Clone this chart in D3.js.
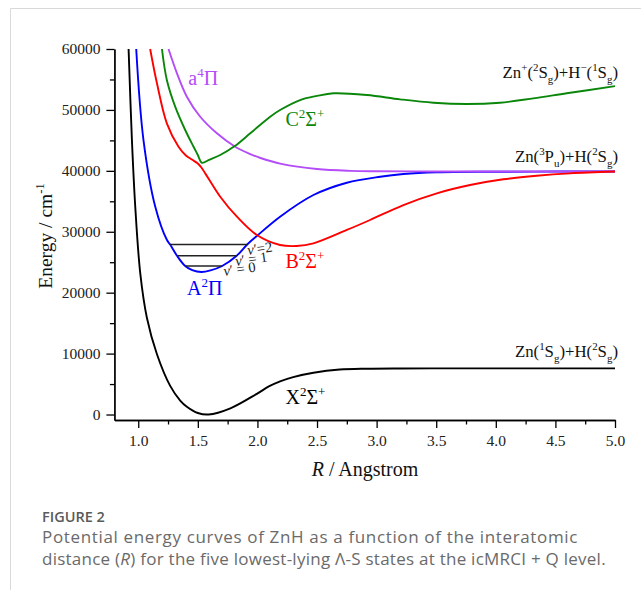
<!DOCTYPE html>
<html>
<head>
<meta charset="utf-8">
<script src="https://cdn.jsdelivr.net/npm/d3@7"></script>
<style>
  body { margin: 0; background: #fff; }
  svg { display: block; }
</style>
</head>
<body>
<div id="plot"></div>
<script>
// potential energy curves of ZnH (R in angstrom, E in cm-1)
const xR = [0.919, 0.947, 0.975, 1.017, 1.073, 1.157, 1.268, 1.352, 1.408, 1.50, 1.59, 1.773, 1.995, 2.10, 2.19, 2.30, 2.47, 2.69, 2.92, 3.2, 3.6, 4.0, 4.5, 5.0];
const xE = [60000, 45060, 34110, 23180, 15850, 9900, 4700, 2300, 1280, 250, 0, 1020, 3400, 4650, 5450, 6150, 6860, 7380, 7520, 7560, 7570, 7570, 7570, 7570];

const aR = [0.983, 1.044, 1.143, 1.241, 1.268, 1.325, 1.394, 1.453, 1.53, 1.606, 1.704, 1.826, 1.914, 1.995, 2.19, 2.47, 2.75, 3.03, 3.225, 3.505, 4.0, 4.5, 5.0];
const aE = [60000, 45060, 34110, 28640, 27900, 26070, 24380, 23700, 23390, 23650, 24380, 26070, 27900, 29300, 32470, 36030, 38050, 39040, 39480, 39760, 39850, 39880, 39890];

const bR = [1.10, 1.157, 1.24, 1.338, 1.40, 1.45, 1.50, 1.53, 1.56, 1.60, 1.688, 1.828, 1.995, 2.19, 2.33, 2.47, 2.75, 2.945, 3.225, 3.505, 3.784, 4.063, 4.343, 4.623, 5.0];
const bE = [60000, 54370, 47800, 43960, 42520, 41860, 41200, 40550, 39640, 38410, 35750, 32470, 29460, 27820, 27660, 28100, 30290, 31930, 34390, 36310, 37670, 38610, 39200, 39590, 39880];

const cR = [1.199, 1.24, 1.31, 1.394, 1.464, 1.50, 1.534, 1.60, 1.688, 1.81, 1.94, 2.107, 2.19, 2.358, 2.5, 2.638, 2.918, 3.197, 3.476, 3.756, 4.035, 4.315, 4.595, 5.0];
const cE = [60000, 54910, 50530, 46700, 43960, 42600, 41330, 41860, 42600, 44070, 46160, 48880, 49980, 51620, 52300, 52730, 52450, 51740, 51180, 50970, 51180, 51900, 52730, 53900];

const qR = [1.254, 1.325, 1.408, 1.52, 1.66, 1.813, 1.94, 2.02, 2.2, 2.5, 2.78, 3.0, 3.5, 4.0, 5.0];
const qE = [60000, 56010, 52170, 48880, 46160, 43960, 42760, 42150, 41150, 40300, 40000, 39930, 39900, 39890, 39890];

// vibrational levels of A2Pi: energy, inner and outer turning points
const levelNames = ["0", "1", "2"];
const levelE = [24380, 26070, 27900];
const levelRin = [1.394, 1.325, 1.268];
const levelRout = [1.704, 1.826, 1.914];

const xTicks = [1.0, 1.5, 2.0, 2.5, 3.0, 3.5, 4.0, 4.5, 5.0];
const xMinor = [1.25, 1.75, 2.25, 2.75, 3.25, 3.75, 4.25, 4.75];
const yTicks = [0, 10000, 20000, 30000, 40000, 50000, 60000];
const yMinor = [5000, 15000, 25000, 35000, 45000, 55000];

const width = 641;
const height = 590;
const serif = "'Liberation Serif', 'Times New Roman', serif";
const sans = "'Open Sans', 'Noto Sans', sans-serif";

const svg = d3.select("#plot").append("svg")
  .attr("width", width)
  .attr("height", height);

// light frame of the figure panel
svg.append("path")
  .attr("d", "M10.5,590 V8.5 H641")
  .attr("fill", "none")
  .attr("stroke", "#d9d9d9")
  .attr("stroke-width", 1);

const x = d3.scaleLinear().domain([0.8, 5.0]).range([114.4, 615]);
const y = d3.scaleLinear().domain([-900, 60000]).range([420, 49]);

function styleAxis(g) {
  g.selectAll("path, line").attr("stroke", "#000").attr("stroke-width", 1.3);
  g.selectAll("text").attr("font-family", serif).attr("font-size", 15.5).attr("fill", "#222");
}

svg.append("g")
  .attr("transform", "translate(0,420)")
  .call(d3.axisBottom(x).tickValues(xMinor).tickSize(4.5).tickSizeOuter(0).tickFormat(""))
  .call(styleAxis);
svg.append("g")
  .attr("transform", "translate(0,420)")
  .call(d3.axisBottom(x).tickValues(xTicks).tickSize(8).tickSizeOuter(0).tickPadding(7).tickFormat(d3.format(".1f")))
  .call(styleAxis);

svg.append("g")
  .attr("transform", "translate(114.4,0)")
  .call(d3.axisLeft(y).tickValues(yMinor).tickSize(4.5).tickSizeOuter(0).tickFormat(""))
  .call(styleAxis);
svg.append("g")
  .attr("transform", "translate(114.4,0)")
  .call(d3.axisLeft(y).tickValues(yTicks).tickSize(8).tickSizeOuter(0).tickPadding(6).tickFormat(d3.format("d")))
  .call(styleAxis);

// rich text: parts are [text, kind] where kind is "sup", "sub", "i" or nothing
function rich(sel, parts, size) {
  let shift = 0;
  parts.forEach((p) => {
    const kind = p[1];
    const target = kind === "sup" ? -0.4 * size : kind === "sub" ? 0.28 * size : 0;
    const t = sel.append("tspan")
      .attr("dy", target - shift)
      .attr("font-size", kind === "sup" || kind === "sub" ? size * 0.65 : size)
      .text(p[0]);
    if (kind === "i") t.attr("font-style", "italic");
    shift = target;
  });
  return sel;
}

// axis titles
rich(svg.append("text")
  .attr("x", 365).attr("y", 476)
  .attr("text-anchor", "middle")
  .attr("font-family", serif).attr("fill", "#111"),
  [["R", "i"], [" / Angstrom"]], 20);

rich(svg.append("text")
  .attr("transform", "translate(52,236) rotate(-90)")
  .attr("text-anchor", "middle")
  .attr("font-family", serif).attr("fill", "#111"),
  [["Energy / cm"], ["-1", "sup"]], 19.5);

// curves
svg.append("clipPath").attr("id", "clip")
  .append("rect").attr("x", 114.4).attr("y", 48).attr("width", 501).attr("height", 372);

const line = d3.line()
  .x((d) => x(d[0]))
  .y((d) => y(d[1]))
  .curve(d3.curveCatmullRom.alpha(0.5));

const curves = [
  { r: xR, e: xE, color: "#000000" },
  { r: aR, e: aE, color: "#0000ff" },
  { r: qR, e: qE, color: "#b44cf7" },
  { r: bR, e: bE, color: "#ff0000" },
  { r: cR, e: cE, color: "#0a870a" },
];

const plot = svg.append("g").attr("clip-path", "url(#clip)");
curves.forEach((c) => {
  plot.append("path")
    .datum(c.r.map((r, i) => [r, c.e[i]]))
    .attr("d", line)
    .attr("fill", "none")
    .attr("stroke", c.color)
    .attr("stroke-width", 1.9);
});

// vibrational levels
plot.selectAll(".level")
  .data(levelE)
  .enter()
  .append("line")
  .attr("class", "level")
  .attr("x1", (d, i) => x(levelRin[i]))
  .attr("x2", (d, i) => x(levelRout[i]))
  .attr("y1", (d) => y(d))
  .attr("y2", (d) => y(d))
  .attr("stroke", "#222")
  .attr("stroke-width", 1.6);

const levelLabelPos = [[1.721, 22740], [1.82, 24380], [1.921, 26185]];
levelNames.forEach((n, i) => {
  const px = x(levelLabelPos[i][0]);
  const py = y(levelLabelPos[i][1]);
  rich(svg.append("text")
    .attr("transform", `translate(${px},${py}) rotate(-8)`)
    .attr("font-family", serif).attr("fill", "#222"),
    [["\u03bd", "i"], ["\u2032"], [i === 2 ? "=" + n : " = " + n]], 14.5);
});

// state labels
const stateLabels = [
  { r: 1.42, e: 54090, color: "#b44cf7", parts: [["a"], ["4", "sup"], ["\u03a0"]] },
  { r: 2.235, e: 47360, color: "#0a870a", parts: [["C"], ["2", "sup"], ["\u03a3"], ["+", "sup"]] },
  { r: 2.235, e: 24050, color: "#ff0000", parts: [["B"], ["2", "sup"], ["\u03a3"], ["+", "sup"]] },
  { r: 1.41, e: 19620, color: "#0000ff", parts: [["A"], ["2", "sup"], ["\u03a0"]] },
  { r: 2.235, e: 1720, color: "#000000", parts: [["X"], ["2", "sup"], ["\u03a3"], ["+", "sup"]] },
];
stateLabels.forEach((s) => {
  rich(svg.append("text")
    .attr("x", x(s.r)).attr("y", y(s.e))
    .attr("font-family", serif).attr("fill", s.color),
    s.parts, 20);
});

// dissociation limits
const limitLabels = [
  { e: 55240, parts: [["Zn"], ["+", "sup"], ["("], ["2", "sup"], ["S"], ["g", "sub"], [")+H"], ["\u2212", "sup"], ["("], ["1", "sup"], ["S"], ["g", "sub"], [")"]] },
  { e: 41450, parts: [["Zn("], ["3", "sup"], ["P"], ["u", "sub"], [")+H("], ["2", "sup"], ["S"], ["g", "sub"], [")"]] },
  { e: 9450, parts: [["Zn("], ["1", "sup"], ["S"], ["g", "sub"], [")+H("], ["2", "sup"], ["S"], ["g", "sub"], [")"]] },
];
limitLabels.forEach((l) => {
  rich(svg.append("text")
    .attr("x", 618).attr("y", y(l.e))
    .attr("text-anchor", "end")
    .attr("font-family", serif).attr("fill", "#111"),
    l.parts, 16.8);
});

// caption
svg.append("text")
  .attr("x", 42).attr("y", 522)
  .attr("font-family", sans).attr("font-size", 14.5).attr("font-weight", 600)
  .attr("fill", "#5a5a5a")
  .text("FIGURE 2");

const cap1 = svg.append("text")
  .attr("x", 42).attr("y", 543)
  .attr("font-family", sans).attr("font-size", 17)
  .attr("fill", "#6a6a6a")
  .text("Potential energy curves of ZnH as a function of the interatomic");

const cap2 = rich(svg.append("text")
  .attr("x", 42).attr("y", 565)
  .attr("font-family", sans).attr("fill", "#6a6a6a"),
  [["distance ("], ["R", "i"], [") for the five lowest-lying \u039b-S states at the icMRCI + Q level."]], 17);

// spread caption lines to the width they have in the figure
[[cap1, 536], [cap2, 564]].forEach(([t, w]) => {
  const n = t.text().length;
  const natural = t.node().getComputedTextLength();
  t.attr("letter-spacing", ((w - natural) / n).toFixed(2));
});
</script>
</body>
</html>
